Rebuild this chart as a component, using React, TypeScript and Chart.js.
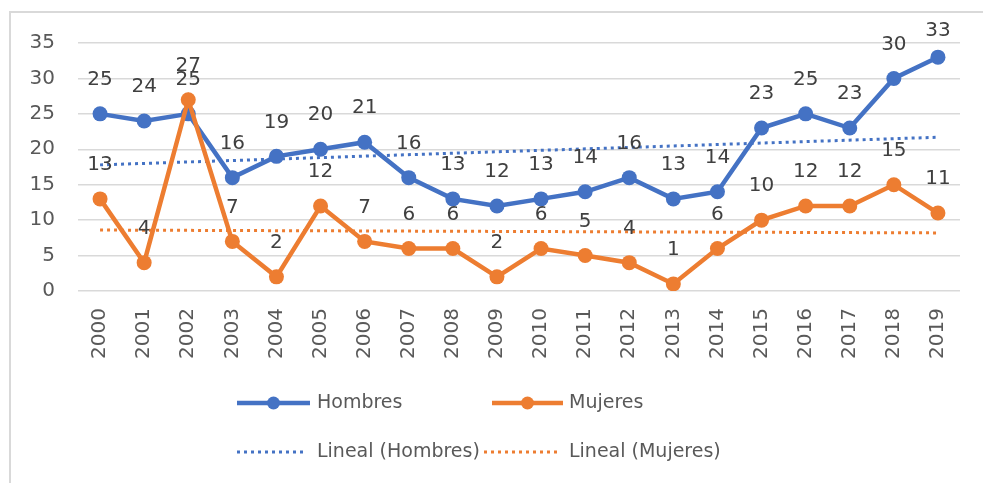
import React, { useEffect, useRef } from "react";
import { Chart, registerables } from "chart.js";

Chart.register(...registerables);

const years = ["2000", "2001", "2002", "2003", "2004", "2005", "2006", "2007", "2008", "2009", "2010", "2011", "2012", "2013", "2014", "2015", "2016", "2017", "2018", "2019"];
const hombres = [25, 24, 25, 16, 19, 20, 21, 16, 13, 12, 13, 14, 16, 13, 14, 23, 25, 23, 30, 33];
const mujeres = [13, 4, 27, 7, 2, 12, 7, 6, 6, 2, 6, 5, 4, 1, 6, 10, 12, 12, 15, 11];
// trend line end points (2000, 2019)
const hombresTrend = [17.8, 21.7];
const mujeresTrend = [8.6, 8.2];
const yMin = 0;
const yMax = 35;
const yStep = 5;

const BLUE = "#4472C4";
const ORANGE = "#ED7D31";
const FONT = "'DejaVu Sans', sans-serif";
const TICK_COLOR = "#595959";
const LABEL_COLOR = "#404040";

const valueLabelPlugin = {
  id: "valueLabels",
  afterDatasetsDraw(chart: any) {
    const ctx = chart.ctx;
    ctx.save();
    ctx.font = `20px ${FONT}`;
    ctx.fillStyle = LABEL_COLOR;
    ctx.textAlign = "center";
    ctx.textBaseline = "middle";
    chart.data.datasets.forEach((ds: any, i: number) => {
      if (!ds.showValues) return;
      const meta = chart.getDatasetMeta(i);
      meta.data.forEach((pt: any, j: number) => {
        const y = Math.max(pt.y - 34, 31);
        ctx.fillText(String(ds.data[j]), pt.x, y);
      });
    });
    ctx.restore();
  },
};

const legendPlugin = {
  id: "customLegend",
  afterDraw(chart: any) {
    const ctx = chart.ctx;
    ctx.save();
    ctx.font = `19px ${FONT}`;
    ctx.fillStyle = TICK_COLOR;
    ctx.textBaseline = "middle";
    ctx.textAlign = "left";
    const items = [
      { label: "Hombres", color: BLUE, x0: 237, x1: 310, tx: 317, y: 403, dotted: false },
      { label: "Mujeres", color: ORANGE, x0: 492, x1: 563, tx: 569, y: 403, dotted: false },
      { label: "Lineal (Hombres)", color: BLUE, x0: 237, x1: 306, tx: 317, y: 452, dotted: true },
      { label: "Lineal (Mujeres)", color: ORANGE, x0: 484, x1: 559, tx: 569, y: 452, dotted: true },
    ];
    items.forEach((it) => {
      ctx.beginPath();
      ctx.strokeStyle = it.color;
      if (it.dotted) {
        ctx.lineWidth = 3;
        ctx.setLineDash([3, 4]);
      } else {
        ctx.lineWidth = 4.5;
        ctx.setLineDash([]);
      }
      ctx.moveTo(it.x0, it.y);
      ctx.lineTo(it.x1, it.y);
      ctx.stroke();
      ctx.setLineDash([]);
      if (!it.dotted) {
        ctx.beginPath();
        ctx.fillStyle = it.color;
        ctx.arc((it.x0 + it.x1) / 2, it.y, 6.5, 0, Math.PI * 2);
        ctx.fill();
      }
      ctx.fillStyle = TICK_COLOR;
      ctx.fillText(it.label, it.tx, it.y);
    });
    ctx.restore();
  },
};

export default function App() {
  const canvasRef = useRef<HTMLCanvasElement>(null);

  useEffect(() => {
    if (!canvasRef.current) return;
    const chart = new Chart(canvasRef.current, {
      type: "line",
      data: {
        labels: years,
        datasets: [
          {
            label: "Mujeres",
            data: mujeres,
            borderColor: ORANGE,
            backgroundColor: ORANGE,
            borderWidth: 4.5,
            pointRadius: 7.5,
            pointBorderWidth: 0,
            pointBorderColor: ORANGE,
            pointBackgroundColor: ORANGE,
            tension: 0,
            order: 0,
            showValues: true,
          } as any,
          {
            label: "Hombres",
            data: hombres,
            borderColor: BLUE,
            backgroundColor: BLUE,
            borderWidth: 4.5,
            pointRadius: 7.5,
            pointBorderWidth: 0,
            pointBorderColor: BLUE,
            pointBackgroundColor: BLUE,
            tension: 0,
            order: 1,
            showValues: true,
          } as any,
          {
            label: "Lineal (Hombres)",
            data: [
              { x: years[0], y: hombresTrend[0] },
              { x: years[years.length - 1], y: hombresTrend[1] },
            ],
            borderColor: BLUE,
            borderWidth: 3,
            borderDash: [3, 4],
            pointRadius: 0,
            order: 2,
          } as any,
          {
            label: "Lineal (Mujeres)",
            data: [
              { x: years[0], y: mujeresTrend[0] },
              { x: years[years.length - 1], y: mujeresTrend[1] },
            ],
            borderColor: ORANGE,
            borderWidth: 3,
            borderDash: [3, 4],
            pointRadius: 0,
            order: 3,
          } as any,
        ],
      },
      options: {
        animation: false,
        responsive: false,
        maintainAspectRatio: false,
        devicePixelRatio: 1,
        layout: { padding: { left: 0, right: 23, top: 43, bottom: 117 } },
        plugins: {
          legend: { display: false },
          tooltip: { enabled: false },
        },
        scales: {
          x: {
            type: "category",
            offset: true,
            grid: { display: false, drawTicks: false },
            border: { display: false },
            ticks: {
              autoSkip: false,
              minRotation: 90,
              maxRotation: 90,
              padding: 17,
              color: TICK_COLOR,
              font: { family: FONT, size: 20 },
            },
            afterFit: (scale: any) => {
              scale.height = 75;
            },
          },
          y: {
            min: yMin,
            max: yMax,
            grid: { color: "#d9d9d9", lineWidth: 1.5, drawTicks: false },
            border: { display: false },
            ticks: {
              stepSize: yStep,
              padding: 23,
              color: TICK_COLOR,
              font: { family: FONT, size: 20 },
            },
            afterFit: (scale: any) => {
              scale.width = 78;
            },
          },
        },
      } as any,
      plugins: [valueLabelPlugin, legendPlugin],
    });
    return () => chart.destroy();
  }, []);

  return (
    <div style={{ position: "fixed", left: 0, top: 0, width: 983, height: 483, background: "#ffffff", overflow: "hidden" }}>
      <div
        style={{
          position: "absolute",
          left: 9,
          top: 11,
          width: 983,
          height: 483,
          borderLeft: "2px solid #d9d9d9",
          borderTop: "2px solid #d9d9d9",
        }}
      />
      <canvas ref={canvasRef} width={983} height={483} style={{ position: "absolute", left: 0, top: 0, width: 983, height: 483 }} />
    </div>
  );
}
